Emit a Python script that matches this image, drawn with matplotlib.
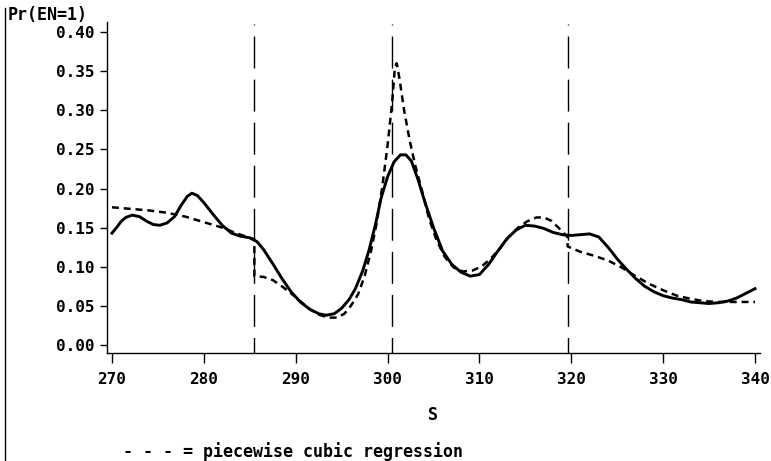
import matplotlib
matplotlib.use("Agg")
import matplotlib.pyplot as plt
from matplotlib.lines import Line2D

plt.rcParams['lines.scale_dashes'] = False
plt.rcParams['font.family'] = 'DejaVu Sans Mono'

# smoothed estimate of Pr(EN=1) against S
s_smooth = [270.0, 270.5, 271.0, 271.5, 272.2, 273.0, 273.8, 274.5, 275.2, 276.0,
            276.8, 277.5, 278.2, 278.7, 279.3, 280.0, 281.0, 282.0, 283.0, 284.0,
            285.0, 285.8, 286.5, 287.5, 288.5, 289.5, 290.5, 291.5, 292.5, 293.3,
            294.2, 295.0, 295.8, 296.5, 297.3, 298.0, 298.7, 299.3, 300.0, 300.7,
            301.4, 302.0, 302.6, 303.3, 304.0, 305.0, 306.0, 307.0, 308.0, 309.0,
            310.0, 311.0, 312.0, 313.0, 314.0, 315.0, 316.0, 317.0, 318.0, 319.0,
            320.0, 321.0, 322.0, 323.0, 324.0, 325.0, 326.0, 327.0, 328.0, 329.0,
            330.0, 331.0, 332.0, 333.0, 334.0, 335.0, 336.0, 337.0, 338.0, 339.0,
            340.0]
p_smooth = [0.143, 0.150, 0.158, 0.163, 0.166, 0.164, 0.158, 0.154, 0.153, 0.156,
            0.164, 0.178, 0.190, 0.194, 0.191, 0.182, 0.167, 0.153, 0.143, 0.139,
            0.137, 0.132, 0.122, 0.104, 0.085, 0.068, 0.055, 0.046, 0.040, 0.038,
            0.040, 0.047, 0.058, 0.072, 0.095, 0.122, 0.155, 0.188, 0.215, 0.234,
            0.243, 0.243, 0.235, 0.212, 0.185, 0.150, 0.120, 0.103, 0.093, 0.088,
            0.090, 0.103, 0.120, 0.136, 0.147, 0.153, 0.152, 0.149, 0.144, 0.141,
            0.140, 0.141, 0.142, 0.138, 0.125, 0.110, 0.097, 0.085, 0.075, 0.068,
            0.063, 0.060, 0.058, 0.055, 0.054, 0.053, 0.054, 0.056, 0.060, 0.066,
            0.072]

# piecewise cubic regression fit (jumps at the knots)
s_cubic = [270.0, 272.0, 274.0, 276.0, 278.0, 280.0, 282.0, 283.5, 284.5, 285.5,
           285.5, 286.5, 287.5, 288.5, 289.5, 290.5, 291.5, 292.5, 293.5, 294.5,
           295.3, 296.0, 296.8, 297.5, 298.2, 298.8, 299.4, 300.0, 300.5, 300.8,
           301.0, 301.3, 301.8, 302.4, 303.0, 303.8, 304.5, 305.3, 306.2, 307.2,
           308.2, 309.2, 310.2, 311.2, 312.2, 313.2, 314.2, 315.2, 316.2, 317.0,
           317.8, 318.6, 319.6, 319.6, 321.0, 322.5, 324.0, 325.5, 327.0, 328.5,
           330.0, 331.5, 333.0, 334.5, 336.0, 337.5, 339.0, 340.0]
p_cubic = [0.176, 0.174, 0.172, 0.169, 0.164, 0.157, 0.150, 0.143, 0.139, 0.135,
           0.088, 0.087, 0.083, 0.075, 0.066, 0.056, 0.046, 0.039, 0.035, 0.035,
           0.040, 0.050, 0.065, 0.088, 0.120, 0.155, 0.200, 0.255, 0.310, 0.355,
           0.360, 0.340, 0.300, 0.262, 0.230, 0.195, 0.162, 0.135, 0.113, 0.099,
           0.094, 0.095, 0.100, 0.110, 0.123, 0.138, 0.150, 0.158, 0.163, 0.163,
           0.159, 0.150, 0.138, 0.126, 0.119, 0.114, 0.108, 0.099, 0.088, 0.078,
           0.070, 0.063, 0.059, 0.056, 0.055, 0.055, 0.055, 0.055]

knots = [285.5, 300.5, 319.6]
x_ticks = [270, 280, 290, 300, 310, 320, 330, 340]
y_ticks = [0.00, 0.05, 0.10, 0.15, 0.20, 0.25, 0.30, 0.35, 0.40]

fig = plt.figure(figsize=(7.71, 4.61), dpi=100)
ax = fig.add_axes([0.1388, 0.2343, 0.8469, 0.718])

# knot markers, drawn top-down so the pattern starts with a short tick
for k in knots:
    ax.plot([k, k], [0.410, -0.0102], color='black', lw=1.0,
            linestyle=(22.3, (23, 8)), clip_on=False)

ax.plot(s_smooth, p_smooth, color='black', lw=2.1, solid_joinstyle='round')
ax.plot(s_cubic, p_cubic, color='black', lw=1.8, dashes=(5, 3.5))

ax.set_xlim(269.46, 340.54)
ax.set_ylim(-0.0102, 0.4128)
ax.set_xticks(x_ticks)
ax.set_xticklabels([str(v) for v in x_ticks])
ax.set_yticks(y_ticks)
ax.set_yticklabels([f'{v:.2f}' for v in y_ticks])

for side in ['top', 'right']:
    ax.spines[side].set_visible(False)
for side in ['left', 'bottom']:
    ax.spines[side].set_linewidth(1.0)

ax.tick_params(axis='x', direction='out', length=7, width=1.0, pad=7,
               labelsize=11.5)
ax.tick_params(axis='y', direction='out', length=5, width=1.0, pad=4,
               labelsize=11.5)
for lab in ax.get_xticklabels() + ax.get_yticklabels():
    lab.set_fontweight('bold')

fig.text(8 / 771, 1 - 15 / 461, 'Pr(EN=1)', fontsize=12, fontweight='bold',
         ha='left', va='center')
fig.text(433 / 771, 1 - 415 / 461, 'S', fontsize=12, fontweight='bold',
         ha='center', va='center')
fig.text(123 / 771, 1 - 452 / 461, '- - - = piecewise cubic regression',
         fontsize=12, fontweight='bold', ha='left', va='center')

# frame line on the left edge
fig.add_artist(Line2D([4.5 / 771, 4.5 / 771], [0, 1 - 8 / 461],
                      color='black', lw=1.0))

fig.savefig('out.png', dpi=100)
